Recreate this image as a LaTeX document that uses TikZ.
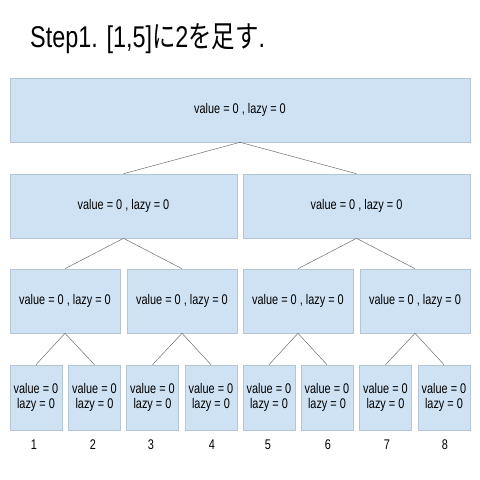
\documentclass[tikz,border=0pt]{standalone}
\usepackage{fontspec}
\setmainfont[FakeStretch=0.78]{Liberation Sans}
\newfontfamily\jpfont[FakeStretch=0.78]{Noto Sans CJK JP}
\definecolor{segfill}{HTML}{CFE2F3}
\definecolor{segline}{HTML}{B4C6D6}
\definecolor{treeline}{HTML}{707070}
\begin{document}
\begin{tikzpicture}[x=1pt,y=-1pt]
	\def \rowone{110}
	\def \rowtwo{206}
	\def \rowthree{301}
	\def \rowfour{397.5}
	\def \idxrow{445}
	\tikzstyle{seg-node}=[rectangle,draw=segline,fill=segfill,line width=0.6pt,inner sep=0pt,minimum height=64pt,font=\fontsize{14}{15}\selectfont]
	\tikzstyle{leaf-node}=[seg-node,minimum width=52pt,minimum height=65pt,align=center]
	\tikzstyle{idx}=[font=\fontsize{14}{15}\selectfont]
	\tikzstyle{tree}=[draw=treeline,line width=0.5pt]
	\useasboundingbox[fill=white] (0,0) rectangle (480,480);
	% title
	\node[anchor=base west,inner sep=0pt,font=\fontsize{30}{36}\selectfont] (title) at (30,47) {Step1. [1,5]{\jpfont に}2{\jpfont を足す}.};

	% root
	\node[seg-node,minimum width=460pt] 	(s0)	at (240,\rowone)		{value = 0 , lazy = 0};

	% second level
	\node[seg-node,minimum width=227pt] 	(s1)	at (123.5,\rowtwo)		{value = 0 , lazy = 0};
	\node[seg-node,minimum width=227pt] 	(s2)	at (356.5,\rowtwo)		{value = 0 , lazy = 0};

	% third level
	\node[seg-node,minimum width=110pt] 	(s3)	at (65,\rowthree)		{value = 0 , lazy = 0};
	\node[seg-node,minimum width=110pt] 	(s4)	at (182,\rowthree)		{value = 0 , lazy = 0};
	\node[seg-node,minimum width=110pt] 	(s5)	at (298,\rowthree)		{value = 0 , lazy = 0};
	\node[seg-node,minimum width=110pt] 	(s6)	at (415,\rowthree)		{value = 0 , lazy = 0};

	% leaves
	\node[leaf-node] 	(l1)	at (36,\rowfour)		{value = 0\\lazy = 0};
	\node[leaf-node] 	(l2)	at (94.5,\rowfour)		{value = 0\\lazy = 0};
	\node[leaf-node] 	(l3)	at (152.5,\rowfour)		{value = 0\\lazy = 0};
	\node[leaf-node] 	(l4)	at (211,\rowfour)		{value = 0\\lazy = 0};
	\node[leaf-node] 	(l5)	at (269,\rowfour)		{value = 0\\lazy = 0};
	\node[leaf-node] 	(l6)	at (327,\rowfour)		{value = 0\\lazy = 0};
	\node[leaf-node] 	(l7)	at (385.5,\rowfour)		{value = 0\\lazy = 0};
	\node[leaf-node] 	(l8)	at (444,\rowfour)		{value = 0\\lazy = 0};

	% indices
	\node[idx] 	(n1)	at (34,\idxrow)		{1};
	\node[idx] 	(n2)	at (93,\idxrow)		{2};
	\node[idx] 	(n3)	at (151,\idxrow)	{3};
	\node[idx] 	(n4)	at (212,\idxrow)	{4};
	\node[idx] 	(n5)	at (268,\idxrow)	{5};
	\node[idx] 	(n6)	at (328,\idxrow)	{6};
	\node[idx] 	(n7)	at (387,\idxrow)	{7};
	\node[idx] 	(n8)	at (445,\idxrow)	{8};

	\path[tree]
		(s0.south)	edge	(s1.north)
		(s0.south)	edge	(s2.north)
		%
		(s1.south)	edge	(s3.north)
		(s1.south)	edge	(s4.north)
		(s2.south)	edge	(s5.north)
		(s2.south)	edge	(s6.north)
		%
		(s3.south)	edge	(l1.north)
		(s3.south)	edge	(l2.north)
		(s4.south)	edge	(l3.north)
		(s4.south)	edge	(l4.north)
		(s5.south)	edge	(l5.north)
		(s5.south)	edge	(l6.north)
		(s6.south)	edge	(l7.north)
		(s6.south)	edge	(l8.north);
\end{tikzpicture}
\end{document}
